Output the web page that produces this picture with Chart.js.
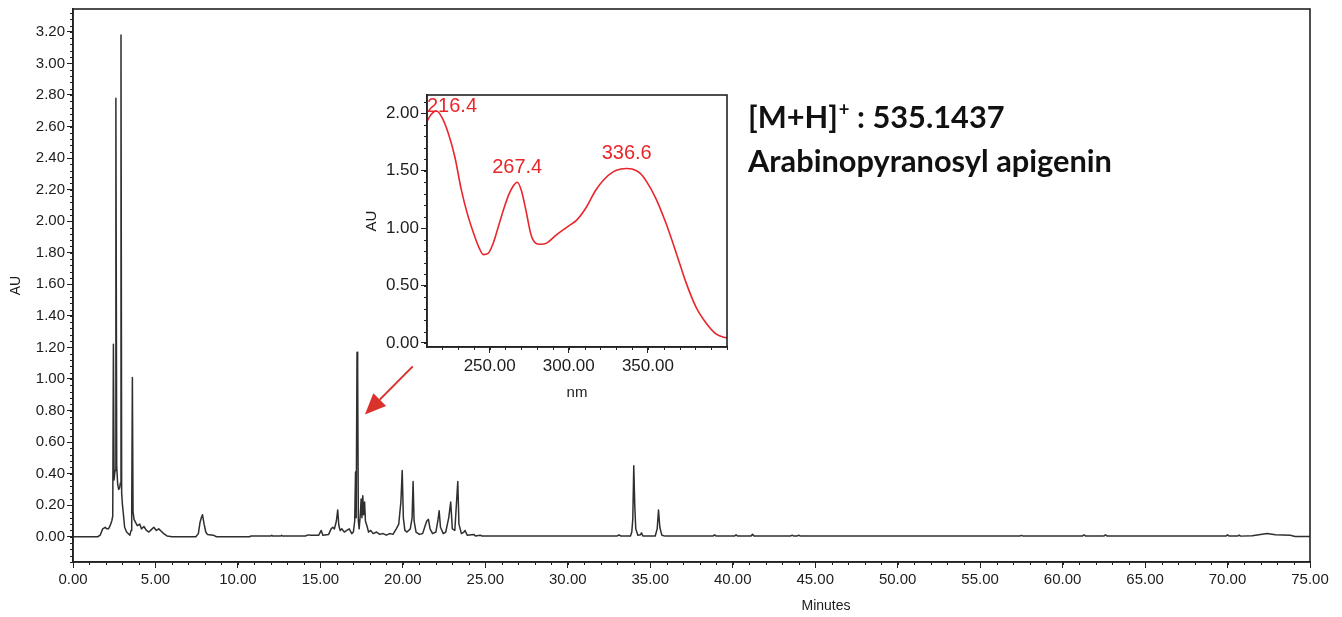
<!DOCTYPE html>
<html>
<head>
<meta charset="utf-8">
<script src="https://cdn.jsdelivr.net/npm/chart.js@4.4.1/dist/chart.umd.min.js"></script>
<style>
  html, body { margin: 0; padding: 0; background: #fff; }
  #wrap { position: relative; width: 1342px; height: 617px; }
  #main { position: absolute; left: 0; top: 0; }
  #inset { position: absolute; left: 360px; top: 80px; }
</style>
</head>
<body>
<div id="wrap">
  <canvas id="main" width="1342" height="617"></canvas>
  <canvas id="inset" width="380" height="330"></canvas>
</div>
<script>
// chromatogram, retention time (min) vs absorbance (AU)
const retentionMin = [
  0, 1.5, 1.65, 1.8, 1.95, 2.05, 2.15, 2.25, 2.35, 2.41,
  2.45, 2.49, 2.55, 2.60, 2.65, 2.71, 2.77, 2.83, 2.87, 2.91,
  2.95, 3.00, 3.05, 3.13, 3.25, 3.45, 3.52, 3.56, 3.60, 3.64,
  3.70, 3.80, 3.90, 4.05, 4.15, 4.30, 4.45, 4.60, 4.75, 4.90,
  5.05, 5.20, 5.35, 5.50, 5.70, 6.00, 7.45, 7.60, 7.70, 7.78,
  7.85, 7.95, 8.05, 8.15, 8.50, 8.70, 10.7, 10.8, 12.0, 12.05,
  12.1, 12.6, 12.65, 12.7, 14.1, 14.2, 14.3, 14.4, 14.9, 15.05,
  15.15, 15.5, 15.65, 15.75, 15.85, 15.97, 16.05, 16.12, 16.2, 16.3,
  16.45, 16.6, 16.75, 16.9, 17.0, 17.08, 17.13, 17.17, 17.22, 17.26,
  17.3, 17.35, 17.42, 17.47, 17.52, 17.57, 17.62, 17.68, 17.73, 17.82,
  17.92, 18.05, 18.2, 18.4, 18.6, 18.8, 19.0, 19.2, 19.4, 19.6,
  19.75, 19.88, 19.96, 20.03, 20.12, 20.25, 20.45, 20.56, 20.62, 20.68,
  20.8, 21.0, 21.2, 21.35, 21.45, 21.55, 21.65, 21.8, 22.0, 22.12,
  22.2, 22.28, 22.45, 22.6, 22.78, 22.9, 23.0, 23.15, 23.26, 23.33,
  23.4, 23.55, 23.7, 23.77, 23.9, 24.3, 24.4, 24.7, 24.8, 28.0,
  33.0, 33.1, 33.2, 33.8, 33.88, 33.94, 34.0, 34.06, 34.12, 34.25,
  34.4, 34.47, 34.55, 35.3, 35.42, 35.5, 35.58, 35.7, 35.9, 38.8,
  38.9, 39.0, 40.1, 40.2, 40.3, 41.1, 41.2, 41.3, 43.5, 43.6,
  43.7, 43.9, 44.0, 44.1, 57.4, 57.5, 57.6, 61.2, 61.3, 61.4,
  62.5, 62.6, 62.7, 69.9, 70.0, 70.1, 70.6, 70.7, 70.8, 71.5,
  71.9, 72.4, 72.9, 73.8, 74.1, 75.0
];
const absorbanceAU = [
  0, 0, 0.01, 0.05, 0.06, 0.05, 0.05, 0.07, 0.10, 0.13,
  1.22, 0.36, 0.42, 2.78, 0.45, 0.33, 0.30, 0.31, 0.34, 3.18,
  0.28, 0.20, 0.15, 0.06, 0.03, 0.01, 0.04, 0.17, 1.01, 0.16,
  0.11, 0.09, 0.07, 0.08, 0.05, 0.065, 0.04, 0.03, 0.045, 0.06,
  0.04, 0.05, 0.035, 0.02, 0.005, 0, 0, 0.02, 0.09, 0.12,
  0.14, 0.08, 0.03, 0.015, 0.01, 0, 0, 0.005, 0.005, 0.01,
  0.005, 0.005, 0.01, 0.005, 0.005, 0.01, 0.012, 0.01, 0.01, 0.04,
  0.01, 0.015, 0.05, 0.06, 0.05, 0.10, 0.17, 0.07, 0.04, 0.05,
  0.03, 0.04, 0.05, 0.02, 0.03, 0.10, 0.41, 0.12, 1.17, 1.02,
  0.10, 0.05, 0.14, 0.24, 0.12, 0.26, 0.14, 0.22, 0.10, 0.07,
  0.03, 0.04, 0.02, 0.03, 0.015, 0.02, 0.01, 0.02, 0.015, 0.05,
  0.08, 0.22, 0.42, 0.12, 0.04, 0.03, 0.05, 0.12, 0.35, 0.10,
  0.03, 0.015, 0.02, 0.07, 0.10, 0.11, 0.05, 0.02, 0.03, 0.10,
  0.165, 0.06, 0.02, 0.03, 0.12, 0.22, 0.05, 0.04, 0.23, 0.35,
  0.08, 0.02, 0.03, 0.04, 0.01, 0.015, 0.005, 0.01, 0.004, 0.005,
  0.005, 0.012, 0.005, 0.005, 0.03, 0.11, 0.45, 0.20, 0.05, 0.01,
  0.012, 0.025, 0.005, 0.005, 0.05, 0.17, 0.06, 0.01, 0.004, 0.004,
  0.012, 0.004, 0.004, 0.012, 0.004, 0.004, 0.015, 0.004, 0.004, 0.01,
  0.004, 0.004, 0.01, 0.004, 0.004, 0.009, 0.004, 0.004, 0.013, 0.004,
  0.004, 0.013, 0.004, 0.004, 0.012, 0.004, 0.004, 0.011, 0.004, 0.006,
  0.012, 0.02, 0.013, 0.01, 0.002, 0.002
];
const timeTicks = [0, 5, 10, 15, 20, 25, 30, 35, 40, 45, 50, 55, 60, 65, 70, 75];
const auTicks = [0, 0.2, 0.4, 0.6, 0.8, 1.0, 1.2, 1.4, 1.6, 1.8, 2.0, 2.2, 2.4, 2.6, 2.8, 3.0, 3.2];

// UV spectrum of the marked peak
const wavelengthNm = [
  210.4, 213, 216.4, 220, 224, 228, 232, 236, 240, 243, 246, 249, 252, 255,
  258.5, 262, 265, 267.4, 270, 273, 276, 279, 282, 286, 292, 300, 305, 311,
  317, 322, 328, 333, 336.6, 340, 345, 349, 355, 361.5, 368, 374, 380.5, 387, 393, 398, 400
];
const spectrumAU = [
  1.93, 1.99, 2.02, 1.96, 1.82, 1.62, 1.34, 1.12, 0.95, 0.84, 0.77, 0.78, 0.86, 0.99,
  1.15, 1.29, 1.37, 1.40, 1.33, 1.15, 0.95, 0.87, 0.86, 0.87, 0.94, 1.02, 1.07, 1.18,
  1.33, 1.42, 1.49, 1.515, 1.52, 1.515, 1.48, 1.41, 1.26, 1.04, 0.78, 0.53, 0.31, 0.17, 0.08, 0.05, 0.045
];
const nmTicks = [250, 300, 350];
const specTicks = [0, 0.5, 1.0, 1.5, 2.0];
const peakNm = [216.4, 267.4, 336.6];
const peakAU = [2.02, 1.40, 1.52];

const FONT = '"Liberation Sans", Arial, sans-serif';
const INK = '#1c1c1c';

// box around the plot + short minor ticks
const frame = {
  id: 'frame',
  afterDraw(chart, args, o) {
    const { ctx, chartArea: a, scales: { x, y } } = chart;
    ctx.save();
    ctx.strokeStyle = o.color;
    ctx.lineWidth = 1;
    ctx.beginPath();
    for (let i = Math.ceil(x.min / o.xStep); i * o.xStep <= x.max + 1e-9; i++) {
      const px = Math.round(x.getPixelForValue(i * o.xStep)) + 0.5;
      ctx.moveTo(px, a.bottom);
      ctx.lineTo(px, a.bottom + 3);
    }
    for (let i = Math.ceil(y.min / o.yStep); i * o.yStep <= y.max + 1e-9; i++) {
      const py = Math.round(y.getPixelForValue(i * o.yStep)) + 0.5;
      ctx.moveTo(a.left, py);
      ctx.lineTo(a.left - 3, py);
    }
    ctx.stroke();
    ctx.lineWidth = 1.6;
    ctx.strokeRect(a.left, a.top, a.right - a.left, a.bottom - a.top);
    ctx.restore();
  }
};

// arrow, compound text and x title on the main chart
const notes = {
  id: 'notes',
  afterDraw(chart) {
    const { ctx, scales: { x, y } } = chart;
    ctx.save();
    // red arrow pointing at the 17 min peak
    const x0 = x.getPixelForValue(20.6), y0 = y.getPixelForValue(1.08);
    const x1 = x.getPixelForValue(17.7), y1 = y.getPixelForValue(0.775);
    const ang = Math.atan2(y1 - y0, x1 - x0);
    const hl = 21, hw = 9;
    const bx = x1 - hl * Math.cos(ang), by = y1 - hl * Math.sin(ang);
    ctx.strokeStyle = '#d9312b';
    ctx.fillStyle = '#d9312b';
    ctx.lineWidth = 2;
    ctx.beginPath();
    ctx.moveTo(x0, y0);
    ctx.lineTo(bx, by);
    ctx.stroke();
    ctx.beginPath();
    ctx.moveTo(x1, y1);
    ctx.lineTo(bx + hw * Math.sin(ang), by - hw * Math.cos(ang));
    ctx.lineTo(bx - hw * Math.sin(ang), by + hw * Math.cos(ang));
    ctx.closePath();
    ctx.fill();

    // compound label
    const line2 = 'Arabinopyranosyl apigenin';
    ctx.font = 'bold 30px Lato';
    const size = 30 * 364 / ctx.measureText(line2).width;
    ctx.font = `bold ${size}px Lato`;
    ctx.fillStyle = '#111';
    ctx.textBaseline = 'alphabetic';
    ctx.textAlign = 'left';
    let tx = 748;
    ctx.fillText('[M+H]', tx, 128);
    tx += ctx.measureText('[M+H]').width + 1;
    ctx.font = `bold ${size * 0.6}px Lato`;
    ctx.fillText('+', tx, 116);
    tx += ctx.measureText('+').width;
    ctx.font = `bold ${size}px Lato`;
    ctx.fillText(' : 535.1437', tx, 128);
    ctx.fillText(line2, 748, 172);

    // x axis title sits under 45 min in the original
    ctx.font = `14px ${FONT}`;
    ctx.fillStyle = INK;
    ctx.textAlign = 'center';
    ctx.textBaseline = 'middle';
    ctx.fillText('Minutes', 826, 606);
    ctx.restore();
  }
};

new Chart(document.getElementById('main'), {
  type: 'line',
  data: {
    datasets: [{
      data: retentionMin.map((t, i) => ({ x: t, y: absorbanceAU[i] })),
      borderColor: '#2f2f2f',
      borderWidth: 1.5,
      borderJoinStyle: 'round',
      pointRadius: 0,
      tension: 0
    }]
  },
  options: {
    responsive: false,
    animation: false,
    events: [],
    layout: { padding: { top: 9, right: 32, left: 0, bottom: 0 } },
    plugins: {
      legend: { display: false },
      tooltip: { enabled: false },
      frame: { xStep: 1, yStep: 0.04, color: '#222' }
    },
    scales: {
      x: {
        type: 'linear', min: 0, max: 75,
        afterBuildTicks: s => { s.ticks = timeTicks.map(v => ({ value: v })); },
        afterFit: s => { s.height = 55; s.paddingLeft = 0; s.paddingRight = 0; },
        grid: { drawOnChartArea: false, drawTicks: true, tickLength: 6, color: '#222' },
        border: { display: true, color: '#222', width: 1.6 },
        ticks: {
          padding: 3, color: INK, maxRotation: 0, autoSkip: false,
          font: { family: FONT, size: 15 },
          callback: v => v.toFixed(2)
        }
      },
      y: {
        type: 'linear', min: -0.16, max: 3.345,
        afterBuildTicks: s => { s.ticks = auTicks.map(v => ({ value: v })); },
        afterFit: s => { s.width = 73; s.paddingTop = 0; s.paddingBottom = 0; },
        grid: { drawOnChartArea: false, drawTicks: true, tickLength: 6, color: '#222' },
        border: { display: true, color: '#222', width: 1.6 },
        title: { display: true, text: 'AU', color: INK, font: { family: FONT, size: 14 }, padding: { top: 8, bottom: 0 } },
        ticks: {
          padding: 2, color: INK,
          font: { family: FONT, size: 15 },
          callback: v => v.toFixed(2)
        }
      }
    }
  },
  plugins: [frame, notes]
});

// peak wavelength labels on the inset
const peakLabels = {
  id: 'peakLabels',
  afterDatasetsDraw(chart) {
    const { ctx, chartArea: a, scales: { x, y } } = chart;
    ctx.save();
    ctx.font = `20px ${FONT}`;
    ctx.fillStyle = '#e8262b';
    ctx.textAlign = 'left';
    ctx.textBaseline = 'middle';
    peakNm.forEach((nm, i) => {
      const label = nm.toFixed(1);
      const w = ctx.measureText(label).width;
      const px = Math.max(x.getPixelForValue(nm) - w / 2, a.left);
      const py = Math.max(y.getPixelForValue(peakAU[i]) - 15, a.top + 11);
      ctx.fillText(label, px, py);
    });
    ctx.restore();
  }
};

new Chart(document.getElementById('inset'), {
  type: 'line',
  data: {
    datasets: [{
      data: wavelengthNm.map((n, i) => ({ x: n, y: spectrumAU[i] })),
      borderColor: '#e8262b',
      borderWidth: 1.6,
      pointRadius: 0,
      cubicInterpolationMode: 'monotone'
    }]
  },
  options: {
    responsive: false,
    animation: false,
    events: [],
    layout: { padding: { top: 15, right: 13, left: 0, bottom: 0 } },
    plugins: {
      legend: { display: false },
      tooltip: { enabled: false },
      frame: { xStep: 10, yStep: 0.1, color: '#222' }
    },
    scales: {
      x: {
        type: 'linear', min: 210.4, max: 400,
        afterBuildTicks: s => { s.ticks = nmTicks.map(v => ({ value: v })); },
        afterFit: s => { s.height = 63; s.paddingLeft = 0; s.paddingRight = 0; },
        grid: { drawOnChartArea: false, drawTicks: true, tickLength: 6, color: '#222' },
        border: { display: true, color: '#222', width: 1.6 },
        title: { display: true, text: 'nm', color: INK, font: { family: FONT, size: 15 }, padding: { top: 0, bottom: 8 } },
        ticks: {
          padding: 3, color: INK, maxRotation: 0, autoSkip: false,
          font: { family: FONT, size: 17 },
          callback: v => v.toFixed(2)
        }
      },
      y: {
        type: 'linear', min: -0.035, max: 2.16,
        afterBuildTicks: s => { s.ticks = specTicks.map(v => ({ value: v })); },
        afterFit: s => { s.width = 67; s.paddingTop = 0; s.paddingBottom = 0; },
        grid: { drawOnChartArea: false, drawTicks: true, tickLength: 6, color: '#222' },
        border: { display: true, color: '#222', width: 1.6 },
        title: { display: true, text: 'AU', color: INK, font: { family: FONT, size: 15 }, padding: { top: 3, bottom: 0 } },
        ticks: {
          padding: 2, color: INK,
          font: { family: FONT, size: 17 },
          callback: v => v.toFixed(2)
        }
      }
    }
  },
  plugins: [frame, peakLabels]
});
</script>
</body>
</html>
